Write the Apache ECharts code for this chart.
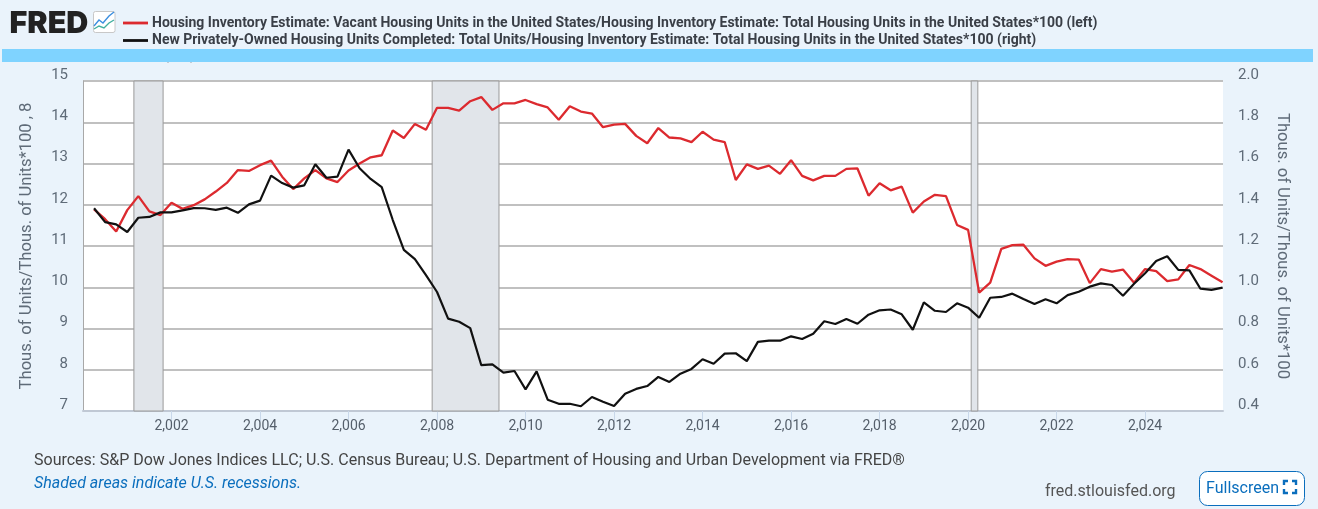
<!DOCTYPE html>
<html><head><meta charset="utf-8">
<style>html,body{margin:0;padding:0;background:#eaf3fb}#c{width:1318px;height:509px}</style>
<script src="https://cdn.jsdelivr.net/npm/echarts@6/dist/echarts.min.js"></script>
</head><body><div id="c"></div>
<script>
const firstQuarterYear = 2000.25;
const vacantShare = [11.89,11.65,11.35,11.87,12.21,11.84,11.75,12.05,11.90,11.99,12.13,12.32,12.53,12.84,12.82,12.96,13.07,12.68,12.38,12.64,12.84,12.64,12.55,12.83,13.00,13.15,13.20,13.80,13.62,13.96,13.82,14.35,14.35,14.28,14.51,14.61,14.30,14.46,14.46,14.54,14.44,14.36,14.06,14.39,14.26,14.21,13.88,13.94,13.96,13.67,13.49,13.86,13.63,13.61,13.52,13.77,13.58,13.52,12.60,12.98,12.87,12.95,12.75,13.08,12.70,12.59,12.70,12.70,12.87,12.88,12.22,12.52,12.35,12.44,11.81,12.08,12.24,12.21,11.51,11.39,9.87,10.11,10.93,11.02,11.03,10.70,10.52,10.62,10.68,10.67,10.10,10.44,10.38,10.43,10.11,10.44,10.39,10.15,10.19,10.54,10.44,10.28,10.12];
const completedShare = [1.383,1.316,1.305,1.268,1.337,1.341,1.363,1.363,1.373,1.384,1.383,1.375,1.386,1.361,1.402,1.420,1.541,1.505,1.483,1.494,1.596,1.531,1.536,1.667,1.577,1.525,1.485,1.326,1.181,1.136,1.059,0.977,0.848,0.833,0.802,0.622,0.626,0.586,0.594,0.505,0.592,0.455,0.435,0.435,0.423,0.468,0.445,0.424,0.484,0.507,0.521,0.565,0.541,0.581,0.604,0.651,0.629,0.678,0.680,0.642,0.735,0.741,0.741,0.762,0.749,0.775,0.835,0.822,0.846,0.823,0.867,0.888,0.892,0.869,0.794,0.927,0.886,0.880,0.922,0.901,0.852,0.949,0.953,0.969,0.943,0.919,0.942,0.922,0.962,0.978,1.003,1.019,1.011,0.959,1.017,1.068,1.127,1.150,1.084,1.082,0.993,0.987,0.998];
const recessions = [[2001.15,2001.81],[2007.89,2009.40],[2020.07,2020.22]];
const leftName = 'Housing Inventory Estimate: Vacant Housing Units in the United States/Housing Inventory Estimate: Total Housing Units in the United States*100 (left)';
const rightName = 'New Privately-Owned Housing Units Completed: Total Units/Housing Inventory Estimate: Total Housing Units in the United States*100 (right)';
const leftAxisTitle = 'Thous. of Units/Thous. of Units*100 , 8';
const rightAxisTitle = 'Thous. of Units/Thous. of Units*100';
const sourceText = 'Sources: S&P Dow Jones Indices LLC; U.S. Census Bureau; U.S. Department of Housing and Urban Development via FRED\u00AE';
const shadeText = 'Shaded areas indicate U.S. recessions.';
const siteText = 'fred.stlouisfed.org';
const FONT = 'Roboto, sans-serif';
const withX = a => a.map((v,i)=>[firstQuarterYear + i*0.25, v]);
const chart = echarts.init(document.getElementById('c'),null,{renderer:'canvas'});
const BLUE='#0a6ebd';
const LEGEND_ICON='path://M0 0H25V2.8H0Z';
chart.setOption({
  backgroundColor:'#eaf3fb',
  animation:false,
  textStyle:{fontFamily:FONT},
  grid:{left:83,right:95,top:81,bottom:98,show:true,backgroundColor:'#fff',borderWidth:0,containLabel:false},
  legend:{left:118,top:11,orient:'vertical',itemGap:3.5,itemWidth:25,itemHeight:14,selectedMode:false,
    textStyle:{fontFamily:FONT,fontWeight:'bold',fontSize:14,color:'#3a3f47',padding:[0,0,3,-1]},
    data:[{name:leftName,icon:LEGEND_ICON},{name:rightName,icon:LEGEND_ICON}]},
  xAxis:{type:'value',min:2000,max:2025.76,interval:2,splitLine:{show:false},
    axisLine:{show:true,lineStyle:{color:'#c0c8d4',width:2}},
    axisTick:{show:true,length:10,lineStyle:{color:'#c9d8ea',width:1}},
    axisLabel:{color:'#555f6b',fontSize:14,margin:8,showMinLabel:false,showMaxLabel:false}},
  yAxis:[
   {type:'value',min:7,max:15,interval:1,position:'left',
    name:leftAxisTitle,nameLocation:'middle',nameRotate:90,nameGap:48,
    nameTextStyle:{color:'#5f6b78',fontSize:16.6,fontFamily:FONT},
    axisLine:{show:true,onZero:false,lineStyle:{color:'#a8a8a8',width:1}},axisTick:{show:false},
    splitLine:{show:true,lineStyle:{color:'#c0c0c0',width:2}},
    axisLabel:{color:'#5f6b78',fontSize:15,margin:15,verticalAlign:'bottom',lineHeight:12}},
   {type:'value',min:0.4,max:2.0,interval:0.2,position:'right',
    name:rightAxisTitle,nameLocation:'middle',nameRotate:-90,nameGap:51,
    nameTextStyle:{color:'#5f6b78',fontSize:16.6,fontFamily:FONT},
    axisLine:{show:false},axisTick:{show:false},splitLine:{show:false},
    axisLabel:{color:'#5f6b78',fontSize:15,margin:15,verticalAlign:'bottom',lineHeight:12,formatter:v=>v.toFixed(1)}}
  ],
  series:[
   {name:leftName,type:'line',yAxisIndex:0,showSymbol:false,symbol:'none',data:withX(vacantShare),
    lineStyle:{color:'#dc2a2f',width:2.3},itemStyle:{color:'#dc2a2f'},z:3,
    markArea:{silent:true,z:1,itemStyle:{color:'#e1e5ea',borderColor:'#9a9a9a',borderWidth:1},
      data:recessions.map(r=>[{xAxis:r[0]},{xAxis:r[1]}])}},
   {name:rightName,type:'line',yAxisIndex:1,showSymbol:false,symbol:'none',data:withX(completedShare),
    lineStyle:{color:'#111',width:2.2},itemStyle:{color:'#111'},z:4}
  ],
  graphic:[
   {type:'rect',shape:{x:2,y:49,width:1311,height:13},style:{fill:'#7fd3ff'},silent:true},
   {type:'rect',shape:{x:167.5,y:62,width:1,height:1},style:{fill:'#9aa4ae'},silent:true},
   {type:'rect',shape:{x:190.5,y:62,width:1,height:1},style:{fill:'#9aa4ae'},silent:true},
   {type:'text',left:9.5,top:8.5,style:{text:'FRED',fill:'#222',font:'900 30.5px Inter, Roboto, sans-serif'},silent:true},
   {type:'rect',shape:{x:93.5,y:11.5,width:21.5,height:21,r:2},style:{fill:'#fff',stroke:'#c8c8c8',lineWidth:1},silent:true},
   {type:'polyline',shape:{points:[[94,26],[99,20],[103,23],[109,16],[114,12]]},style:{stroke:'#3c8fe0',lineWidth:1.4,fill:null},silent:true},
   {type:'polyline',shape:{points:[[94,29],[99,26],[104,28],[109,23],[114,20]]},style:{stroke:'#43b0a0',lineWidth:1.4,fill:null},silent:true},
   {type:'text',left:34,top:453,style:{text:sourceText,fill:'#444',font:'16px '+FONT},silent:true},
   {type:'text',left:34,top:476,style:{text:shadeText,fill:BLUE,font:'italic 16px '+FONT},silent:true},
   {type:'text',left:1045,top:484,style:{text:siteText,fill:'#555',font:'16px '+FONT},silent:true},
   {type:'rect',shape:{x:1199.5,y:471.5,width:105,height:34,r:8},style:{fill:'#fff',stroke:BLUE,lineWidth:1},silent:true},
   {type:'text',left:1206,top:481,style:{text:'Fullscreen',fill:BLUE,font:'16px '+FONT},silent:true},
   {type:'polyline',shape:{points:[[1284,485],[1284,481],[1288,481]]},style:{stroke:BLUE,lineWidth:2.4,fill:null},silent:true},
   {type:'polyline',shape:{points:[[1292,481],[1296,481],[1296,485]]},style:{stroke:BLUE,lineWidth:2.4,fill:null},silent:true},
   {type:'polyline',shape:{points:[[1284,489],[1284,493],[1288,493]]},style:{stroke:BLUE,lineWidth:2.4,fill:null},silent:true},
   {type:'polyline',shape:{points:[[1292,493],[1296,493],[1296,489]]},style:{stroke:BLUE,lineWidth:2.4,fill:null},silent:true}
  ]
});
</script></body></html>
